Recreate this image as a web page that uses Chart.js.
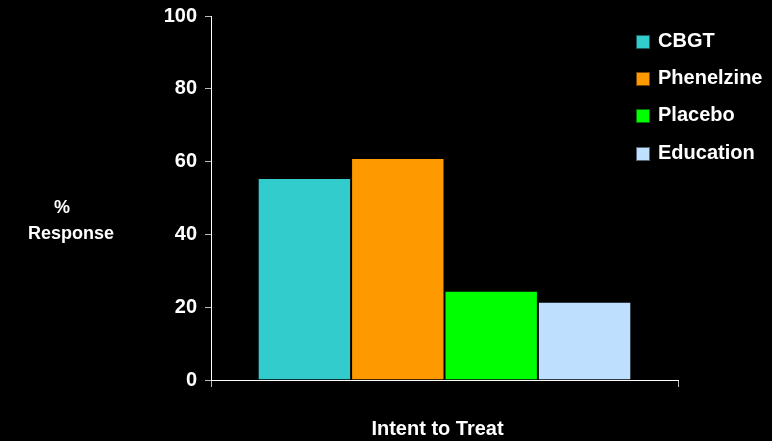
<!DOCTYPE html>
<html>
<head>
<meta charset="utf-8">
<script src="https://cdn.jsdelivr.net/npm/chart.js@4/dist/chart.umd.min.js"></script>
<style>
  html, body { margin: 0; padding: 0; background: #000; }
  #wrap { position: relative; width: 772px; height: 441px; overflow: hidden; }
  canvas { position: absolute; left: 0; top: 0; }
  .txt { position: absolute; color: #fff; font-family: "Liberation Sans", Arial, sans-serif; font-weight: bold; white-space: nowrap; }
  .ytitle { font-size: 18px; text-align: center; line-height: 26px; }
  .legend-row { position: absolute; left: 636px; height: 15px; display: flex; align-items: center; }
  .legend-box { width: 14px; height: 14px; border: 1px solid rgba(0,0,0,0.55); box-sizing: border-box; margin-right: 8px; }
  .legend-label { font-size: 20px; color: #fff; font-family: "Liberation Sans", Arial, sans-serif; font-weight: bold; line-height: 15px; position: relative; top: -1px; }
</style>
</head>
<body>
<div id="wrap">
  <canvas id="chart" width="772" height="441"></canvas>
  <div class="txt ytitle" style="left:20px; top:194px; width:102px;"><span style="position:relative;left:-9px;">%</span><br>Response</div>
  <div id="legend"></div>
</div>
<script>
// Response rates (%) by treatment arm
const categories = ['Intent to Treat'];
const seriesNames = ['CBGT', 'Phenelzine', 'Placebo', 'Education'];
const seriesValues = [[55.5], [61], [24.5], [21.5]];
const seriesColors = ['#33CCCC', '#FF9900', '#00FF00', '#BFDFFF'];
const yTicks = [0, 20, 40, 60, 80, 100];

const datasets = seriesNames.map((name, i) => ({
  label: name,
  data: seriesValues[i],
  backgroundColor: seriesColors[i],
  borderColor: 'rgba(0,0,0,0.55)',
  borderWidth: 1,
  categoryPercentage: 0.8,
  barPercentage: 1.0
}));

const font = { family: '"Liberation Sans", Arial, sans-serif', weight: 'bold', size: 20 };

new Chart(document.getElementById('chart'), {
  type: 'bar',
  data: { labels: categories, datasets },
  options: {
    responsive: false,
    animation: false,
    devicePixelRatio: 1,
    layout: { padding: { left: 0, right: 94, top: 16, bottom: 0 } },
    plugins: { legend: { display: false }, tooltip: { enabled: false } },
    scales: {
      x: {
        offset: true,
        grid: { display: true, drawOnChartArea: false, offset: true, tickLength: 7, color: '#bbbbbb', lineWidth: 1 },
        border: { display: true, color: '#ffffff', width: 1 },
        ticks: { color: '#ffffff', font, padding: 30, labelOffset: -7 },
        afterFit: (s) => { s.height = 61; s.paddingLeft = 0; s.paddingRight = 0; }
      },
      y: {
        min: 0,
        max: 100,
        afterBuildTicks: (s) => { s.ticks = yTicks.map(v => ({ value: v })); },
        grid: { display: true, drawOnChartArea: false, tickLength: 6, color: '#bbbbbb', lineWidth: 1 },
        border: { display: true, color: '#ffffff', width: 1 },
        ticks: { color: '#ffffff', font, padding: 8 },
        afterFit: (s) => { s.width = 211; s.paddingTop = 0; s.paddingBottom = 0; }
      }
    }
  }
});

// Legend
const legend = document.getElementById('legend');
const rowTops = [34, 71, 108, 146];
seriesNames.forEach((name, i) => {
  const row = document.createElement('div');
  row.className = 'legend-row';
  row.style.top = rowTops[i] + 'px';
  const box = document.createElement('div');
  box.className = 'legend-box';
  box.style.background = seriesColors[i];
  const lab = document.createElement('span');
  lab.className = 'legend-label';
  lab.textContent = name;
  row.appendChild(box);
  row.appendChild(lab);
  legend.appendChild(row);
});
</script>
</body>
</html>
